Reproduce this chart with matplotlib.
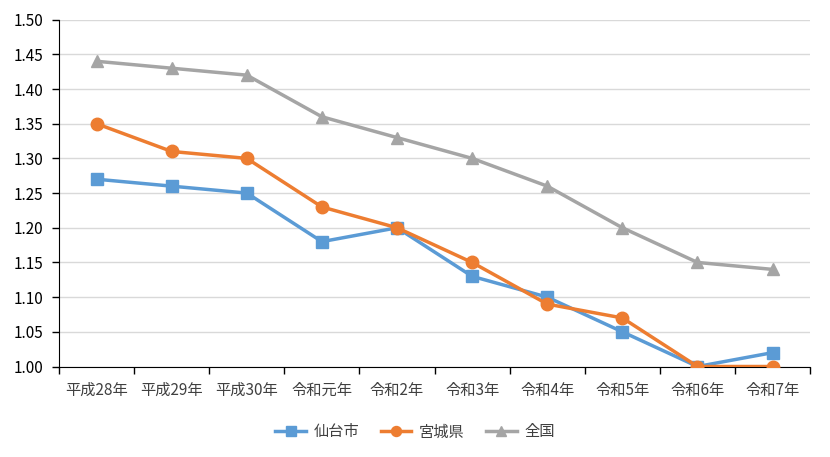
import matplotlib
matplotlib.use("Agg")
import matplotlib.pyplot as plt
from matplotlib.ticker import FixedLocator, NullFormatter

plt.rcParams['font.family'] = ['Noto Sans CJK JP', 'DejaVu Sans']

# 年度ラベル
years = ['平成28年', '平成29年', '平成30年', '令和元年', '令和2年',
         '令和3年', '令和4年', '令和5年', '令和6年', '令和7年']

# 各系列の値
sendai = [1.27, 1.26, 1.25, 1.18, 1.20, 1.13, 1.10, 1.05, 1.00, 1.02]
miyagi = [1.35, 1.31, 1.30, 1.23, 1.20, 1.15, 1.09, 1.07, 1.00, 1.00]
zenkoku = [1.44, 1.43, 1.42, 1.36, 1.33, 1.30, 1.26, 1.20, 1.15, 1.14]

y_ticks = [1.00, 1.05, 1.10, 1.15, 1.20, 1.25, 1.30, 1.35, 1.40, 1.45, 1.50]

fig = plt.figure(figsize=(8.3, 4.57), dpi=100)
ax = fig.add_axes([0.0711, 0.198, 0.905, 0.759])

x = list(range(len(years)))
ax.plot(x, sendai, color='#5B9BD5', linewidth=2.5, marker='s', markersize=9, label='仙台市', zorder=3)
ax.plot(x, miyagi, color='#ED7D31', linewidth=2.5, marker='o', markersize=9, label='宮城県', zorder=4)
ax.plot(x, zenkoku, color='#A5A5A5', linewidth=2.5, marker='^', markersize=9, label='全国', zorder=3)

ax.set_xlim(-0.5, len(years) - 0.5)
ax.set_ylim(1.00, 1.50)
ax.set_yticks(y_ticks)
ax.set_yticklabels([f'{v:.2f}' for v in y_ticks])

# 目盛り線は区切り位置、ラベルは中央
ax.set_xticks(x)
ax.set_xticklabels(years)
ax.xaxis.set_minor_locator(FixedLocator([i - 0.5 for i in range(len(years) + 1)]))
ax.xaxis.set_minor_formatter(NullFormatter())
ax.tick_params(axis='x', which='major', length=0, pad=11, labelsize=11, colors='#404040')
ax.tick_params(axis='x', which='minor', length=5, width=1, color='black')
ax.tick_params(axis='y', length=5, width=1, color='black', labelsize=11, labelcolor='black', pad=6)

ax.grid(axis='y', color='#D9D9D9', linewidth=1)
ax.set_axisbelow(True)
for side in ['top', 'right']:
    ax.spines[side].set_visible(False)
ax.spines['left'].set_color('black')
ax.spines['bottom'].set_color('black')
ax.spines['bottom'].set_zorder(2)

fig.legend(loc='center', bbox_to_anchor=(0.50, 0.055), ncol=3, frameon=False,
           fontsize=11, handlelength=2.0, handletextpad=0.5, columnspacing=1.4,
           markerscale=0.8, labelcolor='#404040')

fig.savefig('out.png', dpi=100)
